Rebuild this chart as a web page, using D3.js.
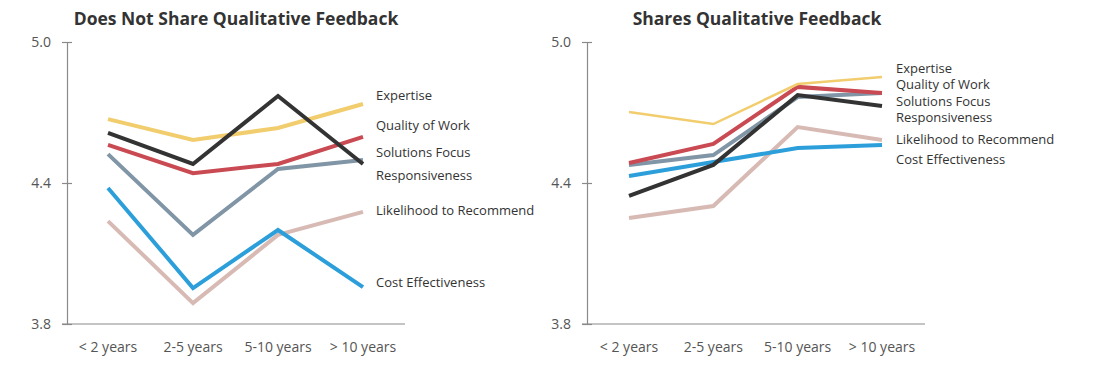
<!DOCTYPE html>
<html><head><meta charset="utf-8">
<script src="https://cdn.jsdelivr.net/npm/d3@7"></script>
<style>body{margin:0;background:#fff;} svg{display:block;}</style>
</head><body>
<svg id="c" width="1097" height="377"></svg>
<script>
const categories = ["< 2 years", "2-5 years", "5-10 years", "> 10 years"];
const seriesNames = ["Expertise", "Quality of Work", "Solutions Focus", "Responsiveness", "Likelihood to Recommend", "Cost Effectiveness"];
const seriesColors = ["#F2CD6E", "#C94A52", "#8095A6", "#333333", "#D8BAB5", "#2C9FDB"];
const yTicks = [3.8, 4.4, 5.0];
const panelTitles = ["Does Not Share Qualitative Feedback", "Shares Qualitative Feedback"];

// Does Not Share
const notShareExpertise      = [4.672, 4.583, 4.634, 4.736];
const notShareQuality        = [4.562, 4.442, 4.481, 4.596];
const notShareSolutions      = [4.523, 4.179, 4.460, 4.498];
const notShareResponsiveness = [4.613, 4.481, 4.770, 4.481];
const notShareLikelihood     = [4.238, 3.889, 4.179, 4.277];
const notShareCost           = [4.379, 3.953, 4.200, 3.957];
// Shares
const shareExpertise      = [4.702, 4.651, 4.821, 4.851];
const shareQuality        = [4.485, 4.566, 4.809, 4.783];
const shareSolutions      = [4.477, 4.519, 4.766, 4.783];
const shareResponsiveness = [4.345, 4.477, 4.774, 4.728];
const shareLikelihood     = [4.251, 4.302, 4.638, 4.583];
const shareCost           = [4.430, 4.489, 4.549, 4.562];

const panels = [
  {title: panelTitles[0], series: [notShareExpertise, notShareQuality, notShareSolutions, notShareResponsiveness, notShareLikelihood, notShareCost],
   axisX: 67, x0: 108, x3: 363, axisEnd: 405, titleX: 236, labelX: 376,
   labelY: [95, 125, 152, 175, 210, 282], widths: [4,4,4,4,4,4]},
  {title: panelTitles[1], series: [shareExpertise, shareQuality, shareSolutions, shareResponsiveness, shareLikelihood, shareCost],
   axisX: 587, x0: 629, x3: 882, axisEnd: 925, titleX: 757, labelX: 896,
   labelY: [68, 84, 101, 117, 139, 159], widths: [2.5,4,4,4,4,4]}
];

const svg = d3.select("#c");
const font = "'Open Sans', sans-serif";
const y = d3.scaleLinear().domain([3.8, 5.0]).range([324, 42]);

panels.forEach(p => {
  const g = svg.append("g");
  const x = d3.scalePoint().domain(categories).range([p.x0, p.x3]);

  // y axis
  const yAxis = d3.axisLeft(y).tickValues(yTicks).tickFormat(d3.format(".1f")).tickSizeInner(5).tickSizeOuter(0).tickPadding(11);
  const ya = g.append("g").attr("transform", `translate(${p.axisX},0)`).call(yAxis);
  ya.select(".domain").attr("stroke", "#8a8a8a").attr("stroke-width", 1.2);
  ya.selectAll(".tick line").attr("stroke", "#8a8a8a").attr("x1", 5).attr("x2", -5).attr("stroke-width", 1.2);
  ya.selectAll(".tick text").attr("fill", "#555").style("font-family", font).style("font-size", "14px");

  // x axis baseline
  g.append("line").attr("x1", p.axisX - 5).attr("x2", p.axisEnd).attr("y1", y(3.8)).attr("y2", y(3.8))
    .attr("stroke", "#8a8a8a").attr("stroke-width", 1.2);
  g.selectAll(".xl").data(categories).enter().append("text")
    .attr("x", d => x(d)).attr("y", 352).attr("text-anchor", "middle")
    .attr("fill", "#555").style("font-family", font).style("font-size", "14px").text(d => d);

  // title
  g.append("text").attr("x", p.titleX).attr("y", 25).attr("text-anchor", "middle")
    .attr("fill", "#333").style("font-family", font).style("font-weight", "bold").style("font-size", "17.5px").text(p.title);

  const line = d3.line().x((d, i) => x(categories[i])).y(d => y(d));
  const order = [4, 5, 2, 1, 0, 3];
  order.forEach(si => {
    g.append("path").datum(p.series[si]).attr("d", line).attr("fill", "none")
      .attr("stroke", seriesColors[si]).attr("stroke-width", p.widths[si]).attr("stroke-linejoin", "miter");
  });

  g.selectAll(".lab").data(seriesNames).enter().append("text")
    .attr("x", p.labelX).attr("y", (d, i) => p.labelY[i]).attr("dy", "0.35em")
    .attr("fill", "#333").style("font-family", font).style("font-size", "13px").text(d => d);
});
</script>
</body></html>
